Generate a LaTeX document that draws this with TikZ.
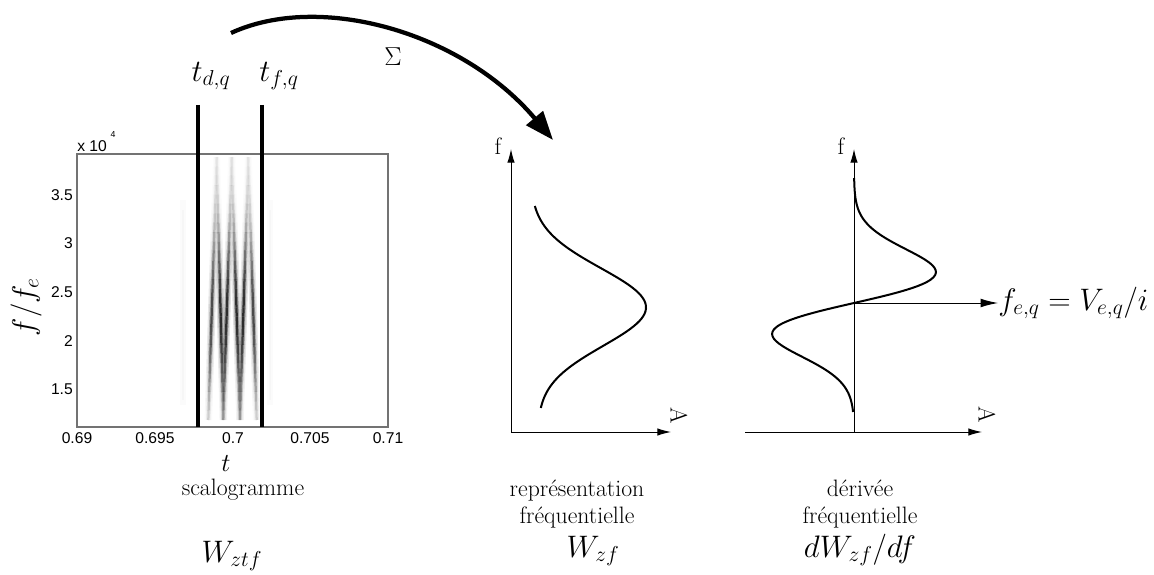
\documentclass[tikz,border=0pt]{standalone}
\usepackage{fontspec}
\newfontfamily\axfont{Liberation Sans}
\usetikzlibrary{arrows.meta}
\begin{document}
\begin{tikzpicture}[x=0.8pt,y=-0.8pt,
  axisline/.style={line width=0.8pt,-{Latex[length=11pt,width=6pt]}},
  curveline/.style={line width=1.6pt,line join=round},
  tline/.style={line width=3.2pt},
  boxline/.style={draw=black!55,line width=0.9pt},
  ticklab/.style={font=\axfont\fontsize{12.5}{14}\selectfont,inner sep=0pt},
  mlab/.style={font=\fontsize{24}{28}\selectfont,inner sep=0pt},
  wlab/.style={font=\fontsize{24}{28}\selectfont,inner sep=0pt},
  rlab/.style={font=\fontsize{19}{22}\selectfont,align=center,inner sep=0pt},
  flab/.style={font=\fontsize{19}{21}\selectfont,inner sep=0pt}]
\useasboundingbox (0,0) rectangle (1154,575);

% ---------- scalogram image (blurred strands) ----------
\foreach \tx/\bx/\w in {216.7/208.3/0.8, 216.7/223.3/1, 231.7/223.3/1, 231.7/240/1, 248.3/240/1, 248.3/256.7/0.8}{
  \foreach \k in {0,...,27}{
    \pgfmathsetmacro\sa{\k/28}
    \pgfmathsetmacro\sb{(\k+1)/28}
    \pgfmathsetmacro\u{((\k+0.5)/28-0.6)/0.3}
    \pgfmathsetmacro\op{\w*(0.03+0.97*exp(-\u*\u))}
    \pgfmathsetmacro\opA{0.12*\op}
    \pgfmathsetmacro\opB{0.3*\op}
    \pgfmathsetmacro\opC{0.72*\op}
    \pgfmathsetmacro\xa{\tx+(\bx-\tx)*\sa}
    \pgfmathsetmacro\xb{\tx+(\bx-\tx)*\sb}
    \pgfmathsetmacro\ya{157+263*\sa}
    \pgfmathsetmacro\yb{157+263*\sb}
    \draw[line width=6pt,draw opacity=\opA,line cap=butt] (\xa,\ya) -- (\xb,\yb);
    \draw[line width=3.6pt,draw opacity=\opB,line cap=butt] (\xa,\ya) -- (\xb,\yb);
    \draw[line width=1.8pt,draw opacity=\opC,line cap=butt] (\xa,\ya) -- (\xb,\yb);
  }
}
\foreach \fx in {183,270}{
  \draw[line width=5pt,draw opacity=0.015,line cap=butt] (\fx,200) -- (\fx,405);
  \draw[line width=2pt,draw opacity=0.02,line cap=butt] (\fx,210) -- (\fx,400);
}

% ---------- scalogram axes box ----------
\coordinate (bxA) at (77,154);
\coordinate (bxB) at (388,427);
\draw[boxline] (bxA) rectangle (bxB);
\foreach \xv/\xl [count=\i] in {77/0.69,155/0.695,233/0.7,310/0.705,388/0.71}{
  \node[ticklab,anchor=north] (xt\i) at (\xv,432) {\xl};
}
\foreach \yv/\yl [count=\i] in {195/3.5,243/3,292/2.5,341/2,389/1.5}{
  \node[ticklab,anchor=east] (yt\i) at (73,\yv) {\yl};
}
\node[ticklab,anchor=west] (mult) at (77,146) {x 10};
\node[font=\axfont\fontsize{7}{8}\selectfont,inner sep=0pt] (multexp) at (113,134) {4};
\node[mlab,rotate=90] (ylab) at (26,307) {$f/f_e$};
\node[font=\fontsize{22}{24}\selectfont,inner sep=0pt] (tlab) at (226,464) {$t$};
\node[rlab] (scal) at (243,490) {scalogramme};
\node[wlab] (wztf) at (232,556) {$W_{ztf}$};

% ---------- time window lines ----------
\coordinate (ld1) at (197.5,105);
\coordinate (ld2) at (197.5,427);
\coordinate (lf1) at (262,105);
\coordinate (lf2) at (262,427);
\draw[tline] (ld1) -- (ld2);
\draw[tline] (lf1) -- (lf2);
\node[mlab] (tdq) at (211,76) {$t_{d,q}$};
\node[mlab] (tfq) at (279,76) {$t_{f,q}$};

% ---------- sum arrow ----------
\coordinate (arcS) at (231,33);
\coordinate (arcE) at (553,140);
\draw[line width=3.4pt,-{Triangle[length=23pt,width=17pt]}] (arcS) .. controls (320,-8) and (462,32) .. (arcE);
\node[font=\fontsize{21}{23}\selectfont,inner sep=0pt] (sig) at (393,57) {$\Sigma$};

% ---------- middle plot ----------
\coordinate (o1) at (511,432);
\coordinate (f1) at (511,149);
\coordinate (a1) at (671,432);
\draw[axisline] (o1) -- (f1);
\draw[axisline] (o1) -- (a1);
\node[flab] (f1lab) at (498,146) {f};
\node[flab,rotate=-90] (a1lab) at (679,416) {A};
\draw[curveline] plot[domain=206:408,samples=80,smooth] ({531+(\x-206)*6/202+112*exp(-((\x-307)/55)*((\x-307)/55))},\x);
\node[rlab] (rep) at (577,504) {représentation\\ fréquentielle};
\node[wlab] (wzf) at (593,551) {$W_{zf}$};

% ---------- right plot ----------
\coordinate (o2b) at (854,432);
\coordinate (f2) at (854,149);
\coordinate (a2s) at (745,432);
\coordinate (a2) at (982,432);
\draw[axisline] (o2b) -- (f2);
\draw[axisline] (a2s) -- (a2);
\node[flab] (f2lab) at (841,146) {f};
\node[flab,rotate=-90] (a2lab) at (987,415) {A};
\draw[curveline] plot[domain=178:412,samples=100,smooth] ({854-191*((\x-303)/43.8)*exp(-((\x-303)/43.8)*((\x-303)/43.8))},\x);
\coordinate (zc) at (854,303);
\node[mlab,anchor=west] (feq) at (998,303) {$f_{e,q}=V_{e,q}/i$};
\draw[line width=0.8pt,-{Latex[length=14pt,width=7pt]}] (zc) -- (feq.west);
\node[rlab] (der) at (860,504) {dérivée\\ fréquentielle};
\node[wlab] (dwzf) at (860,550) {$dW_{zf}/df$};
\end{tikzpicture}
\end{document}
